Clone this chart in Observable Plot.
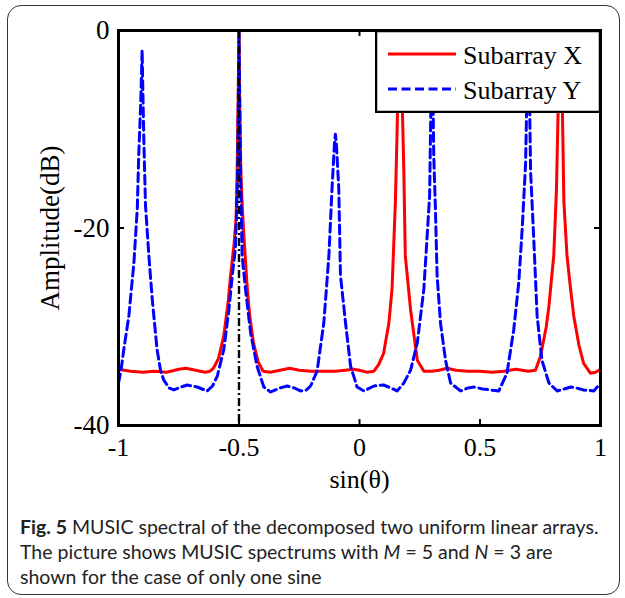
<!DOCTYPE html>
<html><head><meta charset="utf-8">
<script src="https://cdn.jsdelivr.net/npm/d3@7"></script>
<script src="https://cdn.jsdelivr.net/npm/@observablehq/plot@0.6"></script>
<style>
body{margin:0;background:#fff;}
#wrap{position:relative;width:625px;height:598px;overflow:hidden;background:#fff;}
#border{position:absolute;left:7px;top:5px;width:613px;height:590px;border:1.5px solid #333;border-radius:14px;box-sizing:border-box;}
#chart{position:absolute;left:0;top:0;}
#legend{position:absolute;left:375px;top:30px;width:226px;height:83px;}
#caption{position:absolute;left:20px;top:514px;width:604px;white-space:nowrap;font-family:Lato,"Open Sans",sans-serif;font-size:19.5px;line-height:25px;color:#222;}
#caption b{font-weight:700;}
</style></head>
<body>
<div id="wrap">
<div id="border"></div>
<div id="chart"></div>
<div id="legend"></div>
<div id="caption"><b>Fig. 5</b> MUSIC spectral of the decomposed two uniform linear arrays.<br>The picture shows MUSIC spectrums with <i>M</i> = 5 and <i>N</i> = 3 are<br>shown for the case of only one sine</div>
</div>
<script>
// Subarray X (red, solid)
const sinX = [-1.00,-0.95,-0.90,-0.85,-0.80,-0.75,-0.72,-0.68,-0.64,-0.62,-0.606,-0.585,-0.563,-0.545,-0.535,-0.52,-0.512,-0.508,-0.503,-0.500,-0.497,-0.492,-0.486,-0.48,-0.466,-0.455,-0.44,-0.42,-0.40,-0.37,-0.33,-0.29,-0.25,-0.20,-0.15,-0.10,-0.06,-0.025,0.00,0.03,0.06,0.08,0.10,0.122,0.135,0.149,0.156,0.162,0.167,0.172,0.178,0.184,0.19,0.212,0.24,0.267,0.30,0.33,0.364,0.40,0.45,0.50,0.55,0.60,0.65,0.70,0.73,0.751,0.775,0.786,0.806,0.817,0.826,0.833,0.840,0.848,0.861,0.875,0.889,0.91,0.93,0.958,0.98,1.00];
const ampX = [-34.3,-34.5,-34.6,-34.5,-34.6,-34.3,-34.2,-34.4,-34.6,-34.5,-34.2,-33.2,-30.9,-27.5,-24.8,-21.5,-19,-14.6,-6,0,-8,-14.6,-18,-20.7,-26,-29,-31.6,-33.6,-34.5,-34.6,-34.4,-34.2,-34.4,-34.5,-34.5,-34.5,-34.4,-34.3,-34.4,-34.6,-34.5,-33.8,-32.7,-29.6,-26.2,-17.3,-10.2,-3,0,-2,-8,-14.3,-22.8,-28.3,-33.4,-34.5,-34.5,-34.4,-34.2,-34.4,-34.5,-34.5,-34.6,-34.5,-34.3,-34.5,-34.4,-33.0,-30,-27.9,-22.8,-16.3,-6,0,-5,-17.3,-22.8,-26,-28.9,-31.8,-33.7,-34.7,-34.6,-34.3];
// Subarray Y (blue, dashed)
const sinY = [-1.00,-0.99,-0.978,-0.957,-0.936,-0.922,-0.916,-0.909,-0.904,-0.902,-0.899,-0.895,-0.888,-0.874,-0.86,-0.84,-0.825,-0.812,-0.79,-0.77,-0.74,-0.715,-0.674,-0.632,-0.61,-0.59,-0.563,-0.542,-0.528,-0.515,-0.506,-0.501,-0.500,-0.498,-0.493,-0.487,-0.473,-0.452,-0.425,-0.397,-0.369,-0.33,-0.30,-0.27,-0.245,-0.22,-0.203,-0.176,-0.148,-0.127,-0.114,-0.104,-0.100,-0.096,-0.086,-0.079,-0.058,-0.037,-0.01,0.018,0.06,0.10,0.13,0.156,0.184,0.212,0.24,0.267,0.28,0.291,0.296,0.300,0.304,0.308,0.315,0.322,0.336,0.357,0.378,0.419,0.45,0.474,0.51,0.544,0.578,0.612,0.64,0.661,0.675,0.689,0.695,0.700,0.705,0.71,0.723,0.737,0.757,0.786,0.82,0.85,0.876,0.90,0.93,0.972,0.99,1.00];
const ampY = [-35.7,-34.5,-32.3,-28.9,-23.5,-18,-12.6,-8.2,-4,-2.0,-6,-10.9,-17.7,-22.8,-27.2,-32.3,-34.5,-35.4,-36.2,-36.4,-36.1,-35.9,-36.1,-36.5,-36.0,-35.0,-32.3,-28.3,-24.8,-22.1,-15,-3,0,-5,-15,-22.8,-26.2,-30.6,-34.0,-36.1,-36.6,-36.2,-36.0,-36.2,-36.5,-36.4,-36.0,-34.5,-29.6,-22.8,-16,-11.5,-10.5,-11.5,-16,-24.8,-29.6,-34.0,-36.1,-36.5,-36.0,-35.9,-36.2,-36.5,-35.7,-34.4,-31.6,-26.2,-21.1,-16.7,-8,0,-5,-12.6,-18,-24.8,-29.6,-33.4,-35.7,-36.5,-36.2,-36.1,-36.3,-36.4,-36.5,-34.7,-30.3,-25.5,-20.1,-13.6,-6,0,-6,-14.3,-21.1,-28.9,-33.4,-35.7,-36.5,-36.3,-36.1,-36.2,-36.4,-36.5,-36.0,-35.8];
const trueDOA = [-0.5];
const xTicks = [-1, -0.5, 0, 0.5, 1];
const yTicks = [-40, -20, 0];
const xInnerTicks = [-0.5, 0, 0.5];
const yInnerTicks = [-20];
const xDomain = [-1, 1];
const yDomain = [-40, 0];
const seriesNames = ["Subarray X", "Subarray Y"];
const seriesColors = ["#ff0000", "#0000ff"];

const chart = Plot.plot({
  width: 625, height: 500,
  marginLeft: 118, marginRight: 25, marginTop: 30, marginBottom: 75,
  x: {domain: xDomain},
  y: {domain: yDomain},
  style: {fontFamily: "'Liberation Serif', serif", fontSize: "26px", color: "#000", background: "transparent", overflow: "visible"},
  marks: [
    Plot.line(ampX, {x: sinX, y: ampX, stroke: seriesColors[0], strokeWidth: 3}),
    Plot.line(ampY, {x: sinY, y: ampY, stroke: seriesColors[1], strokeWidth: 3, strokeDasharray: "9,4.5"}),
    Plot.ruleX(trueDOA, {stroke: "#000", strokeWidth: 2.4, strokeDasharray: "8,3,2,3"}),
    Plot.ruleX(xInnerTicks, {y1: yDomain[0], y2: yDomain[0] + 0.6, stroke: "#000", strokeWidth: 2}),
    Plot.ruleX(xInnerTicks, {y1: yDomain[1], y2: yDomain[1] - 0.6, stroke: "#000", strokeWidth: 2}),
    Plot.ruleY(yInnerTicks, {x1: xDomain[0], x2: xDomain[0] + 0.025, stroke: "#000", strokeWidth: 2}),
    Plot.ruleY(yInnerTicks, {x1: xDomain[1], x2: xDomain[1] - 0.025, stroke: "#000", strokeWidth: 2}),
    Plot.frame({stroke: "#000", strokeWidth: 3}),
    Plot.axisX(xTicks, {tickSize: 0, tickPadding: 12, tickFormat: d => String(d), label: "sin(θ)", labelAnchor: "center", labelArrow: "none", labelOffset: 62}),
    Plot.axisY(yTicks, {tickSize: 0, tickPadding: 9, tickFormat: d => String(d), label: "Amplitude(dB)", labelAnchor: "center", labelArrow: "none", labelOffset: 79, fontSize: 27})
  ]
});
document.getElementById("chart").appendChild(chart);

// legend
const lg = d3.select("#legend").append("svg").attr("width", 226).attr("height", 83);
lg.append("rect").attr("x", 1).attr("y", 1).attr("width", 224).attr("height", 81).attr("fill", "#fff").attr("stroke", "#000").attr("stroke-width", 2.5);
seriesNames.forEach((name, i) => {
  const cy = 24 + i * 35;
  lg.append("line").attr("x1", 13).attr("x2", 81).attr("y1", cy).attr("y2", cy)
    .attr("stroke", seriesColors[i]).attr("stroke-width", 3)
    .attr("stroke-dasharray", i === 1 ? "9,4.5" : null);
  lg.append("text").attr("x", 88).attr("y", cy + 10).text(name)
    .attr("font-family", "'Liberation Serif', serif").attr("font-size", 26).attr("fill", "#000");
});
</script>
</body></html>
